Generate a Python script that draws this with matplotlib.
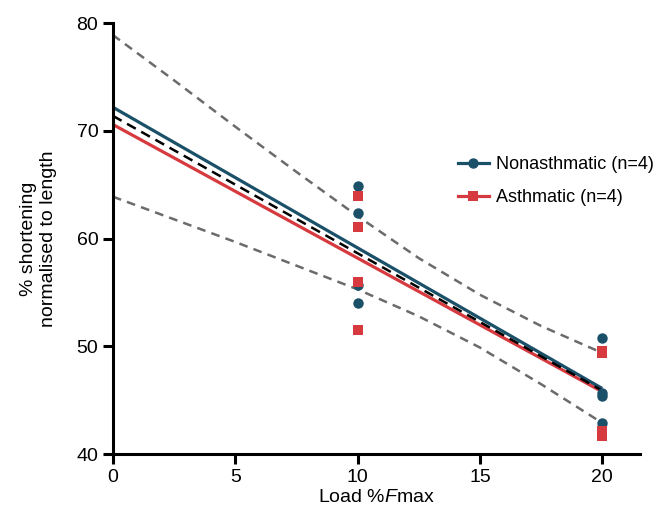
import matplotlib
matplotlib.use("Agg")
import matplotlib.pyplot as plt
import numpy as np

plt.rcParams['font.family'] = ['Liberation Sans', 'DejaVu Sans']
plt.rcParams['mathtext.fontset'] = 'custom'
plt.rcParams['mathtext.rm'] = 'Liberation Sans'
plt.rcParams['mathtext.it'] = 'Liberation Sans:italic'

# Data
non_x = [10, 10, 10, 10, 20, 20, 20, 20]
non_y = [64.9, 62.4, 55.7, 54.0, 50.8, 45.7, 45.4, 42.9]
ast_x = [10, 10, 10, 10, 20, 20, 20, 20]
ast_y = [64.0, 61.1, 56.0, 51.5, 49.6, 49.4, 42.2, 41.7]

fit_x = [0, 20]
non_fit = [72.2, 46.1]
ast_fit = [70.6, 45.8]
all_fit = [71.4, 45.9]

band_x = [0, 2.5, 5, 7.5, 10, 12.5, 15, 17.5, 20]
band_upper = [78.9, 74.7, 70.4, 66.2, 62.1, 58.2, 54.8, 51.9, 49.4]
band_lower = [63.9, 61.8, 59.7, 57.5, 55.3, 52.8, 49.9, 46.5, 42.9]

teal = '#1a5068'
red = '#d63a3f'
grey = '#6b6b6b'

fig = plt.figure(figsize=(6.6, 5.15), dpi=100)
ax = fig.add_axes([0.171, 0.118, 0.799, 0.837])

ax.plot(fit_x, ast_fit, color=red, lw=2.3, zorder=2, solid_capstyle='butt')
ax.plot(fit_x, non_fit, color=teal, lw=2.3, zorder=2.1, solid_capstyle='butt')
ax.plot(fit_x, all_fit, color='black', lw=1.8, ls=(0, (4, 2.5)), zorder=2.2)
ax.plot(band_x, band_upper, color=grey, lw=1.8, ls=(0, (3.5, 2.5)), zorder=2.3)
ax.plot(band_x, band_lower, color=grey, lw=1.8, ls=(0, (3.5, 2.5)), zorder=2.3)

ax.plot(non_x, non_y, 'o', color=teal, ms=7.5, mew=0, zorder=3, clip_on=False)
ax.plot(ast_x, ast_y, 's', color=red, ms=7.5, mew=0, zorder=3.1, clip_on=False)

# legend handles
h1, = ax.plot([], [], '-o', color=teal, lw=2.3, ms=7.5, mew=0)
h2, = ax.plot([], [], '-s', color=red, lw=2.3, ms=7.5, mew=0)
ax.legend([h1, h2], ['Nonasthmatic (n=4)', 'Asthmatic (n=4)'],
          loc='center left', bbox_to_anchor=(458 / 660, 1 - 181 / 515),
          bbox_transform=fig.transFigure, frameon=False, borderpad=0,
          borderaxespad=0, fontsize=13, handlelength=1.7,
          handletextpad=0.4, labelspacing=0.9)

ax.set_xlim(0, 21.55)
ax.set_ylim(40, 80)
ax.set_xticks([0, 5, 10, 15, 20])
ax.set_yticks([40, 50, 60, 70, 80])
for s in ['top', 'right']:
    ax.spines[s].set_visible(False)
for s in ['left', 'bottom']:
    ax.spines[s].set_linewidth(2.2)
ax.tick_params(axis='both', width=2.2, length=7, labelsize=14, color='black', pad=3.5)

ax.set_xlabel('Load %$\\it{F}$max', fontsize=14, labelpad=2)
ax.set_ylabel('% shortening\nnormalised to length', fontsize=14, labelpad=14, linespacing=1.25)

fig.savefig('out.png', dpi=100)
